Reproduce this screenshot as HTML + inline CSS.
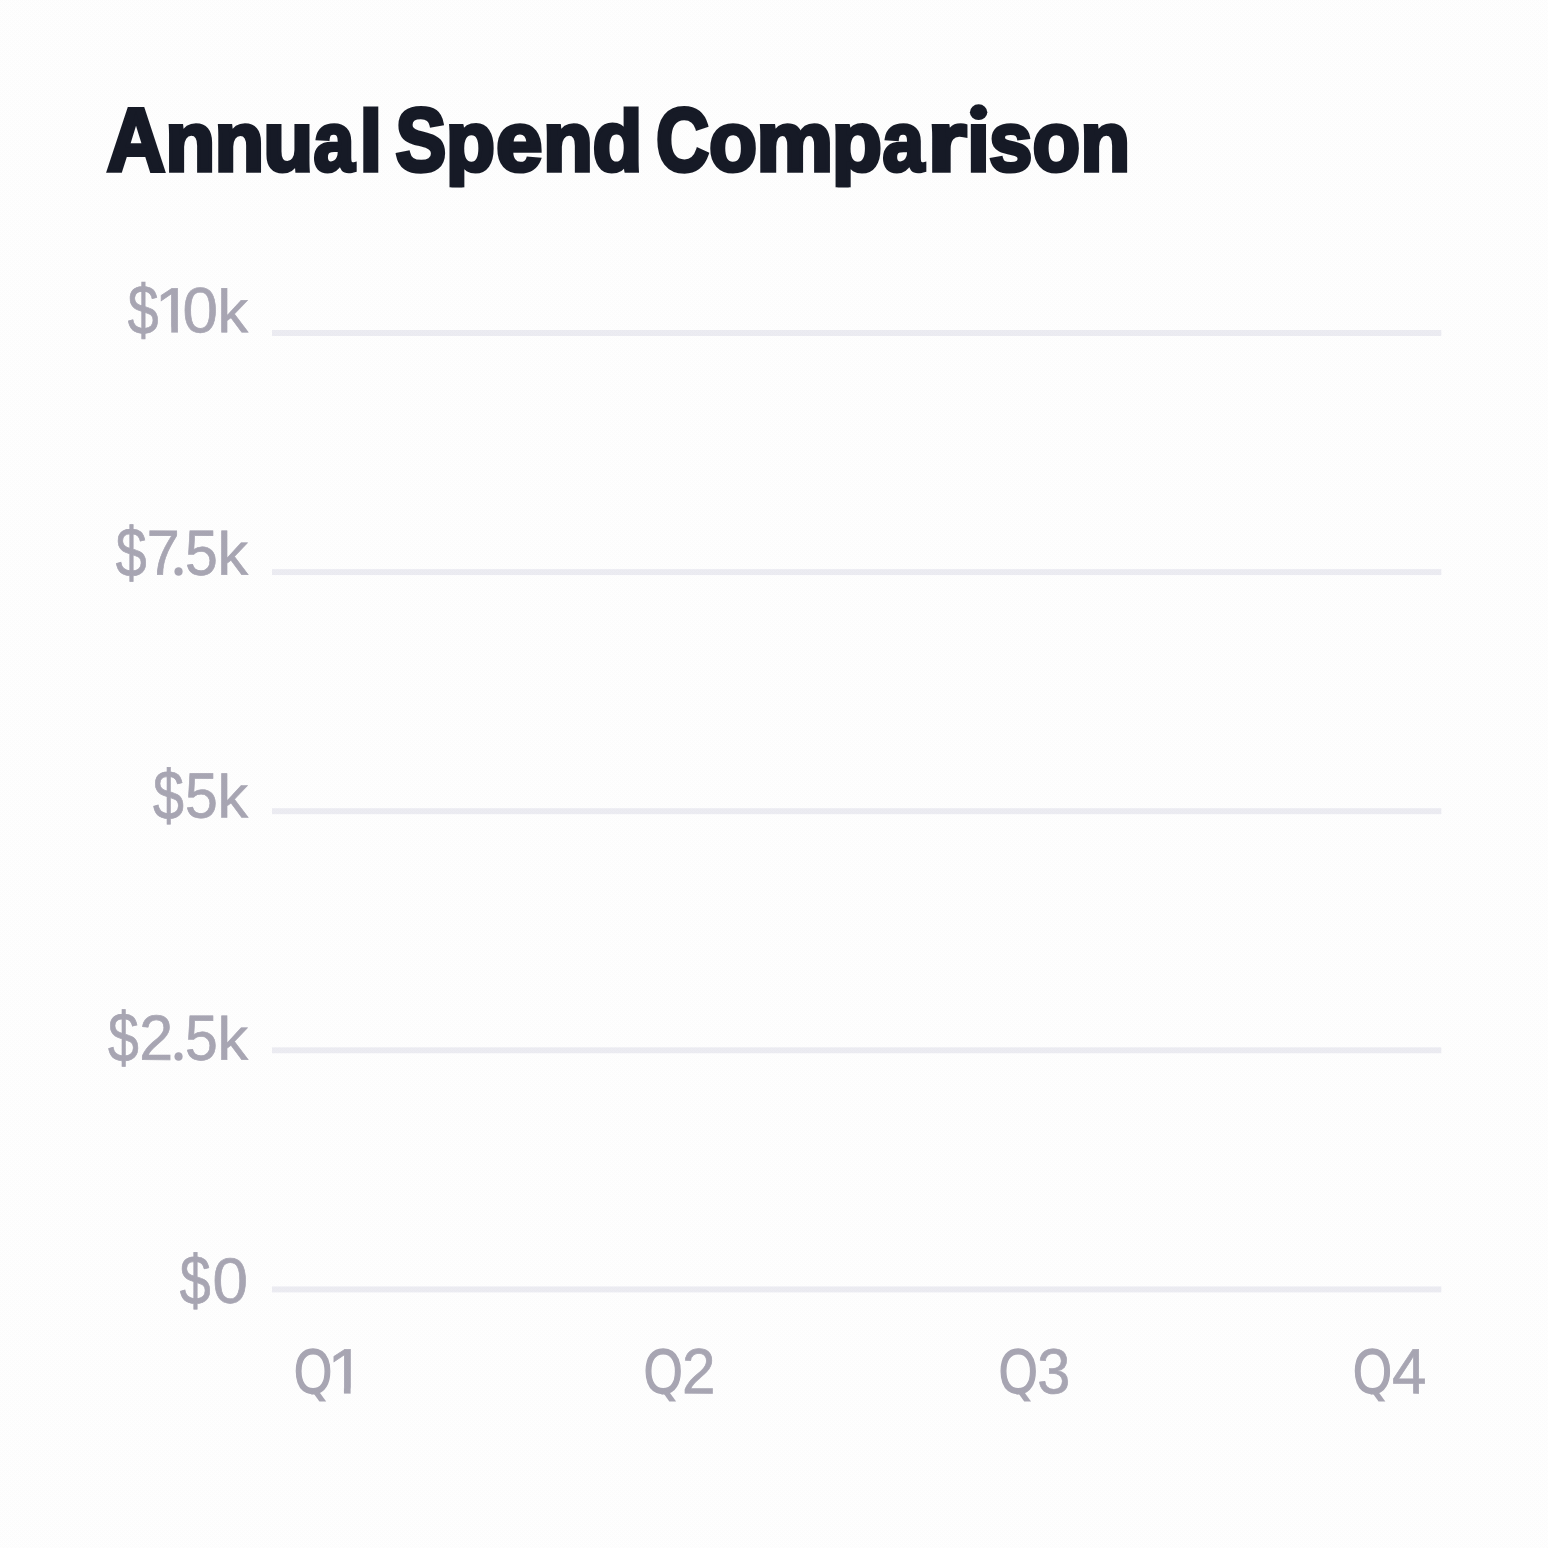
<!DOCTYPE html>
<html>
<head>
<meta charset="utf-8">
<title>Annual Spend Comparison</title>
<style>
  html, body { margin: 0; padding: 0; background: #fefefe; }
  body { width: 1548px; height: 1548px; overflow: hidden; font-family: "Liberation Sans", sans-serif; }
  svg { display: block; }
  text { font-family: "Liberation Sans", sans-serif; }
  .title { fill: #161a26; stroke: #161a26; }
  .title text { font-weight: bold; font-size: 89.8px; stroke-width: 4.2px; stroke-linejoin: miter; }
  .lbl { fill: #a8a6b3; stroke: #a8a6b3; }
  .lbl text { font-size: 63.8px; stroke-width: 0.7px; }
  .lbl text.q { font-size: 63.1px; stroke-width: 1.5px; }
  .lbl text.dot { font-size: 90px; stroke: none; }
</style>
</head>
<body>
<svg width="1548" height="1548" viewBox="0 0 1548 1548">
  <defs>
    <clipPath id="one"><rect x="-5" y="-63.80" width="73.80" height="58.08"/><rect x="15.69" y="-10" width="6.34" height="10.35"/></clipPath>
    <clipPath id="qbowl"><rect x="-5" y="-63.80" width="73.80" height="65.25"/></clipPath>
    <clipPath id="istem"><rect x="-5" y="-50.04" width="60" height="52.64"/></clipPath>
    <pattern id="dither" x="0" y="0" width="4" height="4" patternUnits="userSpaceOnUse">
      <path d="M0,0h1v1h-1z M2,0h1v1h-1z M1,1h1v1h-1z M0,2h1v1h-1z M2,2h1v1h-1z M3,3h1v1h-1z" fill="#000" fill-opacity="0.01" shape-rendering="crispEdges"/>
    </pattern>
    <clipPath id="desc"><rect x="-10" y="-100" width="120" height="117.48"/></clipPath>
    <clipPath id="dot"><circle cx="12.5" cy="-4.8" r="4.25"/></clipPath>
  </defs>
  <rect x="0" y="0" width="1548" height="1548" fill="#fefefe"/>

  <!-- chart title: Annual Spend Comparison -->
<g class="title">
  <g><!-- Annual -->
    <text transform="matrix(0.9031,0.001,0,1.0000,106.78,170.70)">A</text>
    <text transform="matrix(0.9124,0.001,0,0.9430,165.22,170.82)">n</text>
    <text transform="matrix(0.9061,0.001,0,0.9430,214.44,170.82)">n</text>
    <text transform="matrix(0.9124,0.001,0,0.9430,263.24,170.82)">u</text>
    <text transform="matrix(0.8218,0.001,0,0.9430,313.56,170.82)">a</text>
    <text transform="matrix(0.9079,0.001,0,0.9570,359.41,170.79)">l</text>
  </g>
  <g><!-- Spend -->
    <text transform="matrix(0.8483,0.001,0,1.0000,395.49,170.70)">S</text>
    <text transform="matrix(0.8999,0.001,0,0.9430,445.66,170.82)" clip-path="url(#desc)">p</text>
    <text transform="matrix(0.9314,0.001,0,0.9430,495.89,170.82)">e</text>
    <text transform="matrix(0.9124,0.001,0,0.9430,542.92,170.82)">n</text>
    <text transform="matrix(0.9100,0.001,0,0.9570,592.56,170.79)">d</text>
  </g>
  <g><!-- Comparison -->
    <text transform="matrix(0.8186,0.001,0,1.0000,655.90,170.70)">C</text>
    <text transform="matrix(0.8763,0.001,0,0.9430,708.97,170.82)">o</text>
    <text transform="matrix(0.9647,0.001,0,0.9430,756.22,170.82)">m</text>
    <text transform="matrix(0.9161,0.001,0,0.9430,831.80,170.82)" clip-path="url(#desc)">p</text>
    <text transform="matrix(0.8333,0.001,0,0.9430,882.56,170.82)">a</text>
    <text transform="matrix(1.1200,0.001,0,0.9430,927.62,170.82)">r</text>
    <text transform="matrix(0.9200,0.001,0,0.9430,967.06,170.82)" clip-path="url(#istem)">i</text>
    <ellipse cx="978.6" cy="112.2" rx="8.7" ry="7.85" stroke="none"/>
    <text transform="matrix(0.8689,0.001,0,0.9430,988.98,170.82)">s</text>
    <text transform="matrix(0.8686,0.001,0,0.9430,1032.48,170.82)">o</text>
    <text transform="matrix(0.9124,0.001,0,0.9430,1080.32,170.82)">n</text>
  </g>
</g>

  <!-- horizontal grid lines -->
  <g fill="#ececf2">
    <rect x="272" y="330.05" width="1169.3" height="5.9"/>
    <rect x="272" y="569.15" width="1169.3" height="5.9"/>
    <rect x="272" y="808.25" width="1169.3" height="5.9"/>
    <rect x="272" y="1047.35" width="1169.3" height="5.9"/>
    <rect x="272" y="1286.45" width="1169.3" height="5.9"/>
  </g>

  <!-- axis labels -->
<g class="lbl">
  <g><!-- USD 10k -->
    <text transform="matrix(0.8674,0.001,0,1.1000,127.81,334.04)">&#36;</text>
    <text transform="matrix(1.0465,0.001,0,1.0000,154.84,332.35)" clip-path="url(#one)">1</text>
    <text transform="matrix(1.0001,0.001,0,1.0000,182.56,332.35)">0</text>
    <text transform="matrix(0.9579,0.001,0,0.9500,217.42,332.37)">k</text>
  </g>
  <g><!-- USD 7.5k -->
    <text transform="matrix(0.8703,0.001,0,1.1000,115.71,576.44)">&#36;</text>
    <text transform="matrix(0.9292,0.001,0,1.0000,146.69,574.75)">7</text>
    <text class="dot" transform="translate(166.05,576.20)" clip-path="url(#dot)">.</text>
    <text transform="matrix(0.9241,0.001,0,1.0000,185.06,574.75)">5</text>
    <text transform="matrix(0.9579,0.001,0,0.9500,217.42,574.77)">k</text>
  </g>
  <g><!-- USD 5k -->
    <text transform="matrix(0.8703,0.001,0,1.1000,152.91,819.14)">&#36;</text>
    <text transform="matrix(0.9241,0.001,0,1.0000,185.06,817.45)">5</text>
    <text transform="matrix(0.9579,0.001,0,0.9500,217.42,817.47)">k</text>
  </g>
  <g><!-- USD 2.5k -->
    <text transform="matrix(0.8674,0.001,0,1.1000,108.01,1061.54)">&#36;</text>
    <text transform="matrix(0.9541,0.001,0,1.0000,139.17,1059.85)">2</text>
    <text class="dot" transform="translate(166.05,1061.30)" clip-path="url(#dot)">.</text>
    <text transform="matrix(0.9241,0.001,0,1.0000,185.06,1059.85)">5</text>
    <text transform="matrix(0.9579,0.001,0,0.9500,217.42,1059.87)">k</text>
  </g>
  <g><!-- USD 0 -->
    <text transform="matrix(0.8703,0.001,0,1.1000,179.81,1304.34)">&#36;</text>
    <text transform="matrix(1.0001,0.001,0,1.0000,212.56,1302.65)">0</text>
  </g>
  <g><!-- Q1 -->
    <text class="q" transform="matrix(0.7763,0.001,0,1.0000,293.91,1392.95)" clip-path="url(#qbowl)">Q</text>
    <path transform="translate(295.65,1393.70)" d="M15.9,-3.1 L22.2,-3.6 L30.55,7.7 L23.75,7.7 Z" stroke="none"/>
    <text transform="matrix(1.0526,0.001,0,1.0000,327.41,1393.35)" clip-path="url(#one)">1</text>
  </g>
  <g><!-- Q2 -->
    <text class="q" transform="matrix(0.7920,0.001,0,1.0000,643.83,1392.95)" clip-path="url(#qbowl)">Q</text>
    <path transform="translate(645.60,1393.70)" d="M15.9,-3.1 L22.2,-3.6 L30.55,7.7 L23.75,7.7 Z" stroke="none"/>
    <text transform="matrix(0.9441,0.001,0,1.0000,681.90,1393.35)">2</text>
  </g>
  <g><!-- Q3 -->
    <text class="q" transform="matrix(0.7931,0.001,0,1.0000,998.72,1392.95)" clip-path="url(#qbowl)">Q</text>
    <path transform="translate(1000.50,1393.70)" d="M15.9,-3.1 L22.2,-3.6 L30.55,7.7 L23.75,7.7 Z" stroke="none"/>
    <text transform="matrix(0.9338,0.001,0,1.0000,1037.36,1393.35)">3</text>
  </g>
  <g><!-- Q4 -->
    <text class="q" transform="matrix(0.7920,0.001,0,1.0000,1353.03,1392.95)" clip-path="url(#qbowl)">Q</text>
    <path transform="translate(1354.80,1393.70)" d="M15.9,-3.1 L22.2,-3.6 L30.55,7.7 L23.75,7.7 Z" stroke="none"/>
    <text transform="matrix(0.9711,0.001,0,1.0000,1392.12,1393.35)">4</text>
  </g>
</g>

  <!-- faint ordered-dither texture present over the whole image -->
  <rect x="0" y="0" width="1548" height="1548" fill="url(#dither)" pointer-events="none"/>
</svg>
</body>
</html>
